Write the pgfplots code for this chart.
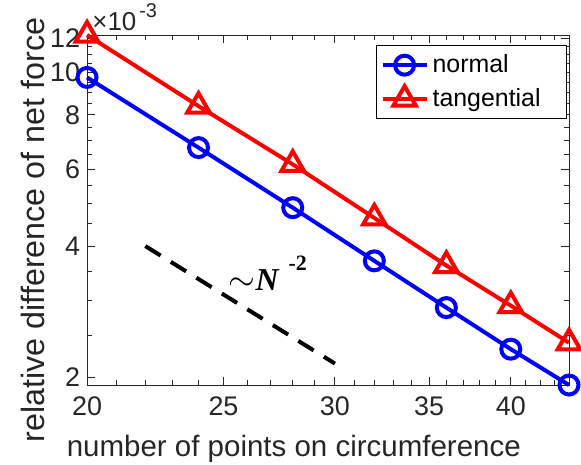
\documentclass[border=0pt]{standalone}
\usepackage{fontspec}
\setmainfont{Liberation Sans}
\newfontfamily\timesf{Liberation Serif}
\usepackage{pgfplots}
\pgfplotsset{compat=1.18}
\definecolor{axgray}{RGB}{38,38,38}

\begin{document}
\begin{tikzpicture}
  \path[use as bounding box] (-43.5bp,-40bp) rectangle (247bp,192.5bp);
  \begin{axis}[
    scale only axis,
    width=241bp, height=175bp,
    xmode=log, ymode=log,
    xmin=20, xmax=44,
    ymin=1.92e-3, ymax=12.2e-3,
    xtick={20,25,30,35,40},
    xticklabels={20,25,30,35,40},
    minor xtick={21,22,23,24,26,27,28,29,31,32,33,34,36,37,38,39,41,42,43},
    ytick={2e-3,4e-3,6e-3,8e-3,10e-3,12e-3},
    yticklabels={2,4,6,8,10,12},
    minor ytick={2.5e-3,3e-3,3.5e-3,4.5e-3,5e-3,5.5e-3,6.5e-3,7e-3,7.5e-3,8.5e-3,9e-3,9.5e-3,10.5e-3,11e-3,11.5e-3},
    tick align=inside,
    major tick length=4bp, minor tick length=2.5bp,
    axis line style={axgray, line width=0.5bp},
    every tick/.style={axgray, line width=0.5bp},
    /pgf/number format/assume math mode=true,
    tick label style={font=\fontsize{13.5}{15}\selectfont, text=axgray},
    xticklabel shift=2.5bp,
    xlabel={number of points on circumference},
    ylabel={relative difference of net force},
    xlabel style={font=\fontsize{14.8}{16}\selectfont, text=axgray,
      at={(rel axis cs:0.429,0)}, anchor=base, yshift=-35.5bp},
    ylabel style={font=\fontsize{16.2}{18}\selectfont, text=axgray, at={(ticklabel cs:0.443)}},
    ylabel shift=-4bp,
    clip=false,
    legend style={at={(0.996,0.971)}, anchor=north east, draw=black,
      line width=0.5bp, font=\fontsize{12.5}{14}\selectfont,
      inner xsep=2bp, inner ysep=2.5bp, row sep=2.5bp},
    legend cell align=left,
    legend image code/.code={\draw[mark repeat=2,mark phase=2,#1]
      plot coordinates {(0bp,0bp) (11bp,0bp) (22bp,0bp)};},
  ]
    % normal
    \addplot[blue, line width=2bp, mark=o, mark size=4.75bp,
      mark options={line width=2bp}] coordinates {
      (20,9.75e-3) (24,6.73e-3) (28,4.90e-3) (32,3.70e-3)
      (36,2.89e-3) (40,2.32e-3) (44,1.92e-3)};
    % tangential
    \addplot[red, line width=2bp, mark=triangle, mark size=6.5bp,
      mark options={line width=2bp}] coordinates {
      (20,12.2e-3) (24,8.38e-3) (28,6.16e-3) (32,4.64e-3)
      (36,3.61e-3) (40,2.92e-3) (44,2.40e-3)};
    \legend{normal,tangential\hspace*{9bp}}
    % slope guide
    \addplot[black, line width=2bp, dash pattern=on 9bp off 6bp, forget plot]
      coordinates {(22,4.0e-3) (30,2.15e-3)};
    \node[anchor=base west, inner sep=0pt] at (axis cs:25.2,3.16e-3)
      {\fontsize{16}{18}\selectfont$\sim$\timesf\bfseries\itshape N\hspace{5bp}\raisebox{10bp}{\upshape\fontsize{11}{12}\selectfont -2}};
    \node[anchor=base west, inner sep=0pt, text=axgray, font=\fontsize{13}{14}\selectfont]
      at ([xshift=2.5bp,yshift=2.5bp]rel axis cs:0,1)
      {×10\hspace{1.5bp}\raisebox{6.5bp}{\fontsize{10}{11}\selectfont -3}};
  \end{axis}
\end{tikzpicture}
\end{document}
